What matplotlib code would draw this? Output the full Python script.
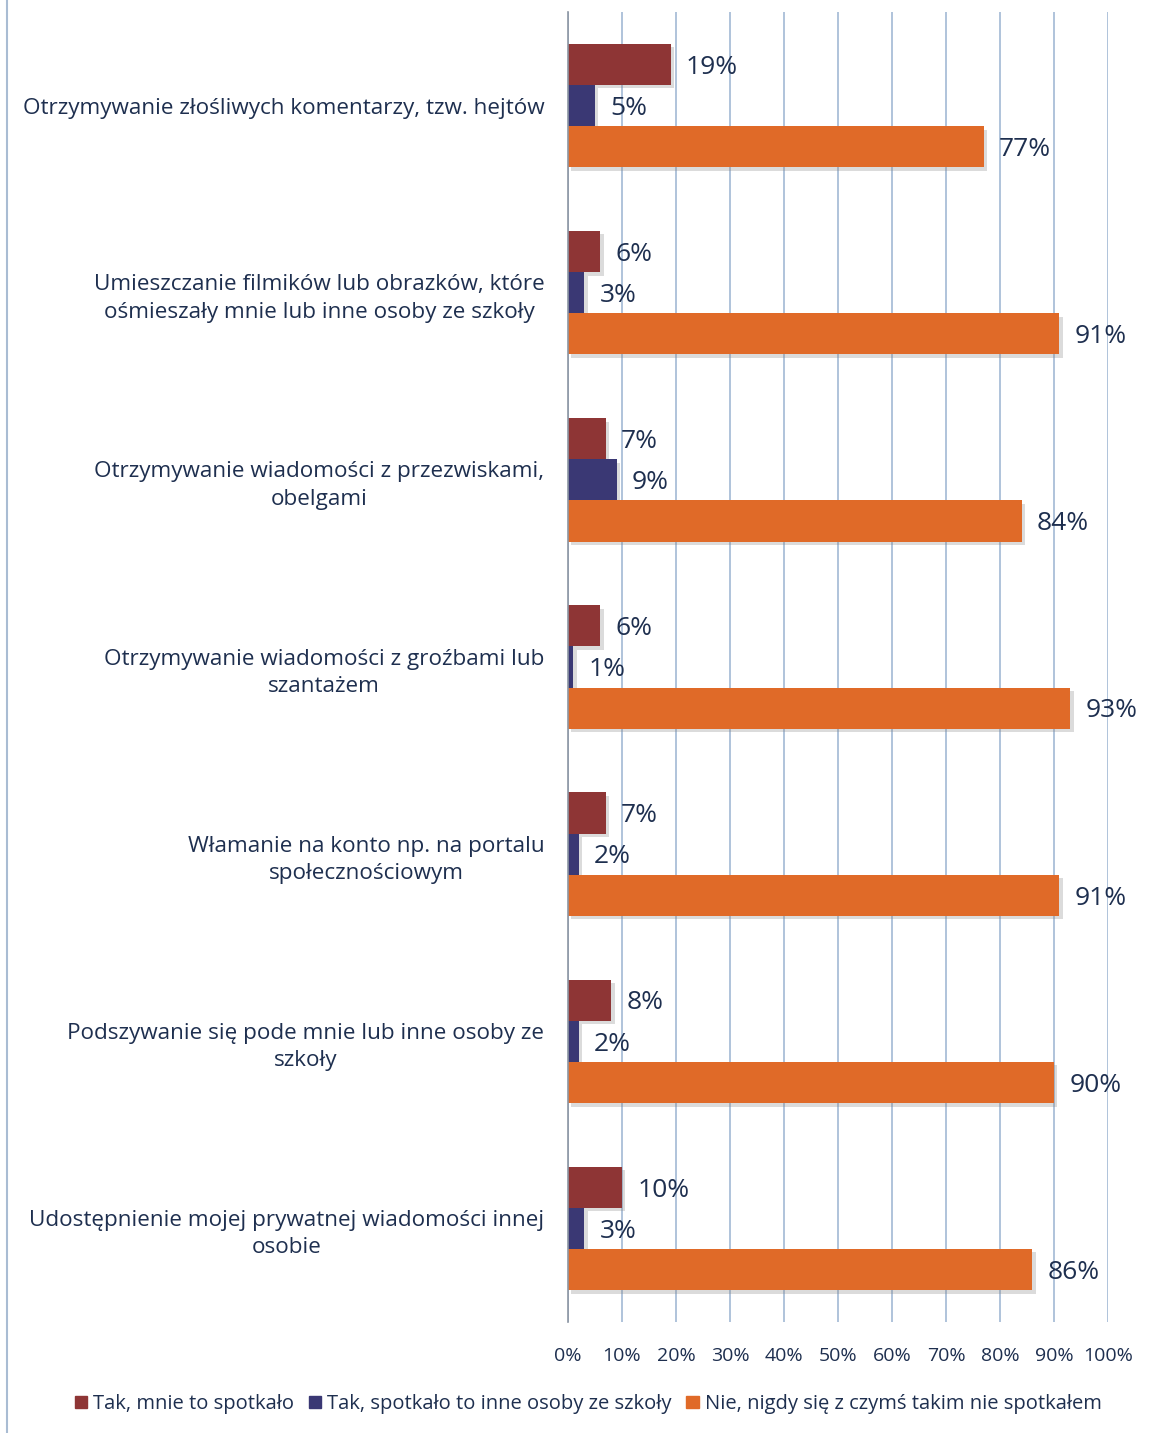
import matplotlib
matplotlib.use("Agg")
import matplotlib.pyplot as plt
import matplotlib.patheffects as pe
from matplotlib.lines import Line2D
from matplotlib.patches import Patch
import numpy as np

categories = [
    "Otrzymywanie złośliwych komentarzy, tzw. hejtów",
    "Umieszczanie filmików lub obrazków, które\nośmieszały mnie lub inne osoby ze szkoły",
    "Otrzymywanie wiadomości z przezwiskami,\nobelgami",
    "Otrzymywanie wiadomości z groźbami lub\nszantażem",
    "Włamanie na konto np. na portalu\nspołecznościowym",
    "Podszywanie się pode mnie lub inne osoby ze\nszkoły",
    "Udostępnienie mojej prywatnej wiadomości innej\nosobie",
]
series_names = [
    "Tak, mnie to spotkało",
    "Tak, spotkało to inne osoby ze szkoły",
    "Nie, nigdy się z czymś takim nie spotkałem",
]
tak_mnie = [19, 6, 7, 6, 7, 8, 10]
tak_inne = [5, 3, 9, 1, 2, 2, 3]
nie = [77, 91, 84, 93, 91, 90, 86]
xticks = [0, 10, 20, 30, 40, 50, 60, 70, 80, 90, 100]

colors = ["#8E3535", "#3A3874", "#E06A28"]
text_color = "#1E2F4F"
font = ["Open Sans", "DejaVu Sans"]
plt.rcParams["font.family"] = font

fig = plt.figure(figsize=(11.52, 14.33), dpi=100)
ax = fig.add_axes([568 / 1152, 1 - 1322 / 1433, (1108 - 568) / 1152, (1322 - 12) / 1433])

y = np.arange(len(categories))
h = 0.22
shadow = [pe.SimplePatchShadow(offset=(2.5, -2.5), shadow_rgbFace="#888888", alpha=0.3), pe.Normal()]
for vals, off, col in zip([tak_mnie, tak_inne, nie], [-h, 0, h], colors):
    bars = ax.barh(y + off, vals, height=h, color=col, zorder=3, path_effects=shadow)
    for b, v in zip(bars, vals):
        ax.annotate(f"{v}%", (v, b.get_y() + b.get_height() / 2), xytext=(11, -2),
                    textcoords="offset points", va="center", ha="left",
                    fontsize=19, color=text_color, zorder=5)

ax.set_ylim(len(categories) - 0.5, -0.5)
ax.set_xlim(0, 100)
ax.set_xticks(xticks)
ax.set_xticklabels([f"{t}%" for t in xticks], fontsize=14, color=text_color)
ax.tick_params(axis="x", length=0, pad=18)
ax.set_yticks(y)
ax.set_yticklabels(categories, fontsize=16.2, color=text_color, ha="right",
                   multialignment="center", linespacing=1.4)
ax.tick_params(axis="y", length=0, pad=17)

ax.grid(axis="x", color="#9AB3D1", lw=1.1, zorder=0)
ax.set_axisbelow(True)
for s in ["top", "right", "bottom"]:
    ax.spines[s].set_visible(False)
ax.spines["left"].set_color("#8C96A3")
ax.spines["left"].set_linewidth(1.2)
ax.spines["left"].set_zorder(4)

handles = [Patch(facecolor=c, edgecolor=c) for c in colors]
fig.legend(handles, series_names, loc="center", bbox_to_anchor=(588 / 1152, 1 - 1404 / 1433),
           ncol=3, frameon=False, fontsize=14.5, handlelength=0.6, handleheight=0.6,
           handletextpad=0.3, columnspacing=0.75, labelcolor=text_color)

fig.add_artist(Line2D([7 / 1152, 7 / 1152], [0, 1], color="#A9BCD3", lw=1.5))

fig.savefig("out.png", dpi=100)
